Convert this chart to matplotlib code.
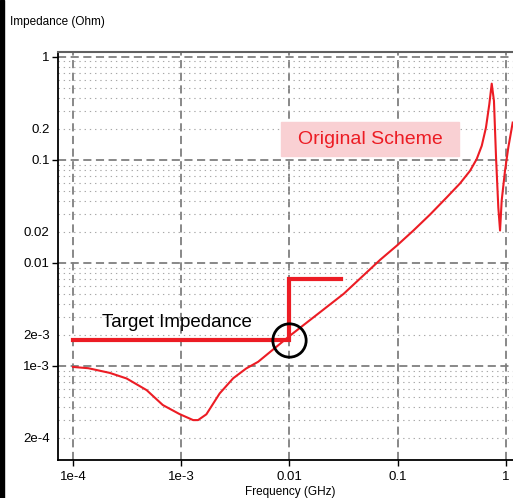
#Impedance vs frequency with target impedance mask
import numpy as np
import matplotlib
matplotlib.use("Agg")
import matplotlib.pyplot as plt
from matplotlib.ticker import LogLocator, FuncFormatter, NullLocator
from matplotlib.patches import Rectangle

#Data
freq_ghz = [1e-4, 1.384e-4, 2.19e-4, 3.13e-4, 4.79e-4, 6.76e-4, 9.64e-4, 1.288e-3,
            1.43e-3, 1.706e-3, 2.265e-3, 3.02e-3, 3.98e-3, 5.13e-3, 0.01, 0.0316,
            0.0687, 0.098, 0.1393, 0.1986, 0.283, 0.376, 0.4656, 0.536, 0.597,
            0.653, 0.701, 0.738, 0.774, 0.809, 0.849, 0.881, 0.912, 0.979, 1.05, 1.153]
impedance = [9.77e-4, 9.5e-4, 8.55e-4, 7.55e-4, 5.82e-4, 4.17e-4, 3.41e-4, 2.98e-4,
             2.98e-4, 3.39e-4, 5.41e-4, 7.59e-4, 9.44e-4, 1.096e-3, 1.95e-3, 5.0e-3,
             0.01069, 0.01469, 0.02056, 0.0294, 0.0431, 0.059, 0.0783, 0.1016, 0.1368,
             0.2056, 0.346, 0.548, 0.372, 0.1052, 0.0345, 0.0206, 0.0401, 0.0783,
             0.1316, 0.2297]

target_freq = [1e-4, 0.01, 0.01, 0.03]
target_z = [1.8e-3, 1.8e-3, 7e-3, 7e-3]
check_point = (0.01, 1.8e-3)

xticks = [1e-4, 1e-3, 0.01, 0.1, 1]
xtick_labels = ['1e-4', '1e-3', '0.01', '0.1', '1']
yticks = [1, 0.1, 0.01, 1e-3]
ytick_labels = ['1', '0.1', '0.01', '1e-3']
yminor_vals = [0.2, 0.02, 2e-3, 2e-4]
yminor_labels = ['0.2', '0.02', '2e-3', '2e-4']

red = '#ec1c24'
plt.rcParams['font.family'] = ['Liberation Sans', 'DejaVu Sans']
tick_font = ['Liberation Sans Narrow', 'Liberation Sans', 'DejaVu Sans']

W, H = 513, 498
fig = plt.figure(figsize=(W / 100, H / 100), dpi=100)
ax = fig.add_axes([58 / W, 38 / H, (W - 58) / W, 408 / H])

ax.set_xscale('log')
ax.set_yscale('log')
ax.set_xlim(10 ** -4.1385, 10 ** 0.0646)
ax.set_ylim(10 ** -3.913, 10 ** 0.046)

ax.plot(freq_ghz, impedance, color=red, lw=1.5, zorder=4)
ax.plot(target_freq, target_z, color=red, lw=3, solid_joinstyle='miter', zorder=4)
ax.plot([check_point[0]], [check_point[1]], 'o', ms=24, mfc='none', mec='black',
        mew=2, zorder=5)

#ticks
ax.set_xticks(xticks)
ax.set_xticklabels(xtick_labels)
ax.xaxis.set_minor_locator(NullLocator())
ax.set_yticks(yticks)
ax.set_yticklabels(ytick_labels)
ax.yaxis.set_minor_locator(LogLocator(base=10, subs=np.arange(2, 10), numticks=20))

def minor_fmt(v, pos):
    for val, lab in zip(yminor_vals, yminor_labels):
        if abs(np.log10(v) - np.log10(val)) < 1e-6:
            return lab
    return ''

ax.yaxis.set_minor_formatter(FuncFormatter(minor_fmt))
ax.tick_params(which='major', direction='out', length=4, width=1, labelsize=9.5, pad=2)
ax.tick_params(which='minor', length=0, labelsize=9.5, pad=6)
ax.tick_params(axis='x', pad=4)
for lab in ax.get_xticklabels() + ax.get_yticklabels() + ax.get_yticklabels(minor=True):
    lab.set_family(tick_font)

#grid
ax.grid(which='major', axis='both', color='#7f7f7f', lw=1.3, linestyle=(0, (4.5, 2.5)))
ax.grid(which='minor', axis='y', color='#a8a8a8', lw=0.8, linestyle=(0, (1.2, 3.5)))
ax.set_axisbelow(True)

for s in ['left', 'bottom']:
    ax.spines[s].set_color('black')
    ax.spines[s].set_linewidth(1.3)
ax.spines['top'].set_color('#606060')
ax.spines['top'].set_linewidth(1.5)
ax.spines['right'].set_visible(False)

#annotations
fig.patches.append(Rectangle((281 / W, (H - 156) / H), 178 / W, 34 / H,
                             transform=fig.transFigure, color='#f9d0d3', zorder=3))
fig.text(370 / W, 1 - 139 / H, 'Original Scheme', color=red, fontsize=14,
         ha='center', va='center', zorder=6)
fig.text(101.7 / W, 1 - 327.3 / H, 'Target Impedance', color='black', fontsize=13.5,
         ha='left', va='baseline')
fig.text(10 / W, 1 - 22 / H, 'Impedance (Ohm)', fontsize=8.5, ha='left', va='center')
fig.text(290 / W, 1 - 491.7 / H, 'Frequency (GHz)', fontsize=8.5, ha='center', va='center')
fig.patches.append(Rectangle((0, 0), 4 / W, 1, transform=fig.transFigure, color='black'))

fig.savefig('out.png', dpi=100)
